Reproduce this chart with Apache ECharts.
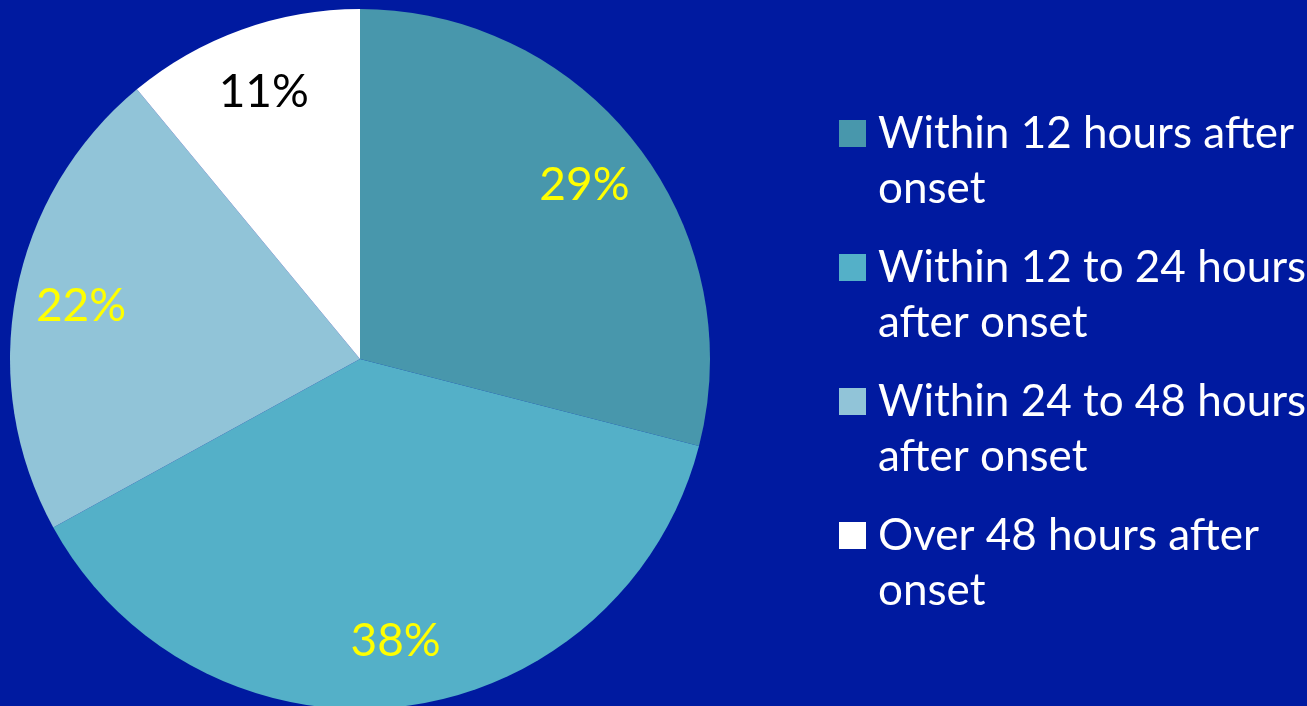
<!DOCTYPE html>
<html><head><meta charset="utf-8">
<script src="https://cdn.jsdelivr.net/npm/echarts@6/dist/echarts.min.js"></script>
<style>html,body{margin:0;padding:0;background:#001AA0;}#c{width:1307px;height:706px;}</style>
</head><body><div id="c"></div>
<script>
const categories = ['Within 12 hours after onset','Within 12 to 24 hours after onset','Within 24 to 48 hours after onset','Over 48 hours after onset'];
const legendLines = [['Within 12 hours after','onset'],['Within 12 to 24 hours','after onset'],['Within 24 to 48 hours','after onset'],['Over 48 hours after','onset']];
const values = [29, 38, 22, 11];
const colors = ['#4897AC','#54B0C8','#91C4D8','#FFFFFF'];
const labelColors = ['#FFFF00','#FFFF00','#FFFF00','#000000'];

const chart = echarts.init(document.getElementById('c'), null, {renderer:'canvas'});
const data = categories.map((n,i)=>({name:n, value:values[i], itemStyle:{color:colors[i]}}));
const labelData = categories.map((n,i)=>({name:n, value:values[i], label:{color:labelColors[i]}}));
chart.setOption({
  backgroundColor:'#001AA0',
  animation:false,
  legend:{
    orient:'vertical', left:834, top:46, itemWidth:27, itemHeight:27, itemGap:-31,
    icon:'rect', data:categories,
    formatter:(n)=>{const L=legendLines[categories.indexOf(n)]; return '{a| }\n{a|'+L[0]+'}\n{a|'+L[1]+'}';},
    textStyle:{color:'#FFFFFF', fontFamily:'Lato', fontSize:44, lineHeight:55,
      rich:{a:{color:'#FFFFFF', fontFamily:'Lato', fontSize:44, lineHeight:55, padding:[0,0,0,7]}}}
  },
  series:[
    {type:'pie', center:[360,359], radius:[0,350], startAngle:90, clockwise:true,
     label:{show:false}, labelLine:{show:false}, data:data, silent:true},
    {type:'pie', center:[360,359], radius:[212,350], startAngle:90, clockwise:true,
     silent:true, legendHoverLink:false, itemStyle:{color:'transparent'},
     label:{show:true, position:'inside', formatter:'{c}%', fontFamily:'Lato', fontSize:46},
     labelLine:{show:false}, data:labelData}
  ]
});
</script></body></html>
